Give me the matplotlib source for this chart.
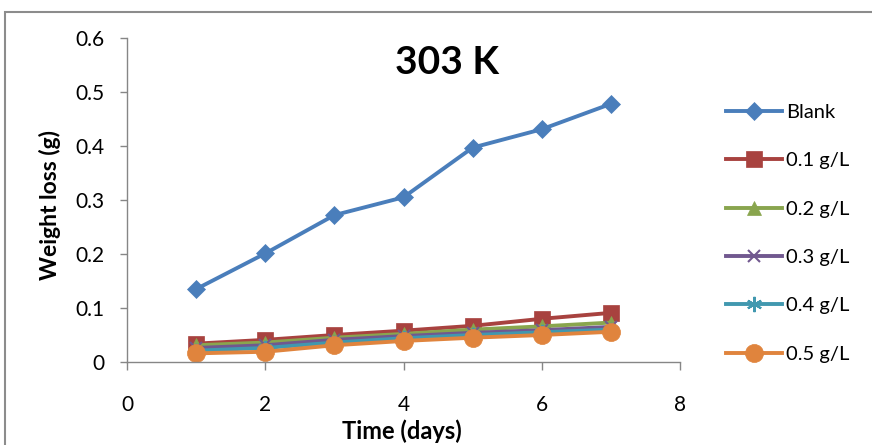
import matplotlib
matplotlib.use("Agg")
import matplotlib.pyplot as plt
from matplotlib.patches import Rectangle

days = [1, 2, 3, 4, 5, 6, 7]
blank = [0.135, 0.201, 0.272, 0.305, 0.397, 0.431, 0.478]
c01 = [0.034, 0.041, 0.050, 0.058, 0.067, 0.080, 0.091]
c02 = [0.031, 0.036, 0.045, 0.052, 0.060, 0.066, 0.073]
c03 = [0.026, 0.031, 0.041, 0.048, 0.054, 0.059, 0.065]
c04 = [0.021, 0.026, 0.036, 0.044, 0.050, 0.055, 0.060]
c05 = [0.016, 0.019, 0.031, 0.039, 0.045, 0.050, 0.056]
labels = ["Blank", "0.1 g/L", "0.2 g/L", "0.3 g/L", "0.4 g/L", "0.5 g/L"]
title = "303 K"
xlabel = "Time (days)"
ylabel = "Weight loss (g)"

plt.rcParams['font.family'] = ['Lato', 'DejaVu Sans']

W, H = 872, 445
fig = plt.figure(figsize=(W/100, H/100), dpi=100)
ax = fig.add_axes([127/W, 1-362/H, (680-127)/W, (362-38)/H])

# chart border (right and bottom edges cut off)
fig.patches.append(Rectangle((5/W, -0.05), 1.2, 1-12/H+0.05, transform=fig.transFigure,
                             fill=False, edgecolor='#8c8c8c', linewidth=1.5))

series = [blank, c01, c02, c03, c04, c05]
colors = ['#4A7EBB', '#A8423F', '#89A54E', '#71588F', '#4198AF', '#E0843D']
markers = ['D', 's', '^', 'x', (6, 2, 0), 'o']
msizes = [9, 11, 10, 9, 11, 13]
for ys, lab, col, mk, ms in zip(series, labels, colors, markers, msizes):
    thin = mk == 'x' or isinstance(mk, tuple)
    ax.plot(days, ys, color=col, marker=mk, markersize=ms, linewidth=2.8,
            markeredgewidth=1.5 if thin else 0.5,
            markeredgecolor=col, label=lab)

ax.set_xlim(0, 8)
ax.set_ylim(0, 0.6)
ax.set_xticks([0, 2, 4, 6, 8])
ax.set_yticks([0, 0.1, 0.2, 0.3, 0.4, 0.5, 0.6])
ax.set_yticklabels(['0', '0.1', '0.2', '0.3', '0.4', '0.5', '0.6'])
for s in ['top', 'right']:
    ax.spines[s].set_visible(False)
for s in ['left', 'bottom']:
    ax.spines[s].set_color('#868686')
    ax.spines[s].set_linewidth(1.0)
ax.tick_params(axis='both', colors='#868686', labelcolor='black', labelsize=15,
               width=1.0, direction='out')
ax.tick_params(axis='x', length=6, pad=18)
ax.tick_params(axis='y', length=5, pad=11)

fig.text(402/W, 1-431/H, xlabel, fontsize=17, fontweight='bold', ha='center', va='center')
fig.text(50/W, 1-205/H, ylabel, fontsize=16.5, fontweight='bold', ha='center', va='center',
         rotation=90)
fig.text(447/W, 1-62/H, title, fontsize=28, fontweight='bold', ha='center', va='center')

leg = fig.legend(loc='upper left', bbox_to_anchor=(726/W, 1-104/H), frameon=False,
                 fontsize=14.5, handlelength=2.8, labelspacing=1.55, handletextpad=0.2,
                 borderaxespad=0, borderpad=0)

fig.savefig('out.png', dpi=100)
